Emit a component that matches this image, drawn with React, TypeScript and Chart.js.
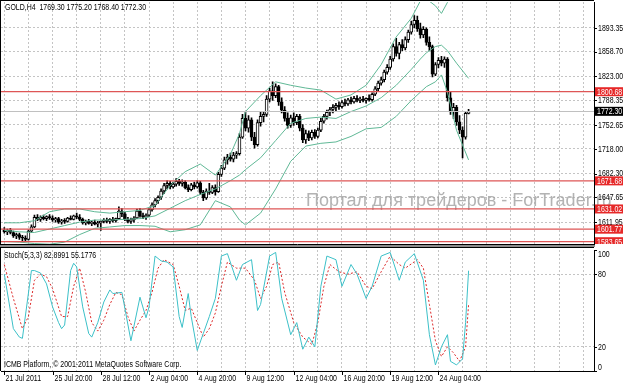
import React, { useEffect, useRef } from "react";
import { Chart, registerables } from "chart.js";

Chart.register(...registerables);

const FONT = "Arial, 'Liberation Sans', sans-serif";
const NARROW = 0.82;

const opens = [
  1600,1598,1600,1597,1592,1594,1590,1589,1587,1599,
  1605,1619,1616,1619,1617,1620,1618,1615,1617,1612,
  1614,1613,1618,1616,1621,1619,1616,1611,1613,1610,
  1612,1609,1611,1613,1615,1613,1616,1614,1617,1628,
  1624,1616,1613,1615,1618,1628,1621,1619,1622,1630,
  1637,1643,1648,1657,1665,1668,1663,1667,1671,1668,
  1670,1662,1659,1666,1663,1669,1655,1647,1657,1655,
  1662,1656,1681,1690,1702,1706,1703,1709,1711,1735,
  1762,1748,1760,1735,1724,1756,1765,1768,1790,1802,
  1795,1808,1786,1774,1762,1752,1763,1756,1765,1748,
  1731,1740,1734,1742,1736,1745,1758,1765,1771,1775,
  1778,1781,1779,1785,1783,1789,1786,1791,1788,1790,
  1788,1791,1789,1797,1805,1813,1818,1829,1836,1848,
  1866,1856,1869,1864,1876,1887,1898,1904,1892,1883,
  1891,1872,1866,1826,1840,1846,1842,1848,1792,1772,
  1778,1757,1745,1735,1769.3,
];
const highs = [
  1604,1602,1603,1599,1596,1596,1593,1592,1601,1608,
  1622,1623,1621,1622,1621,1623,1621,1619,1619,1616,
  1617,1619,1621,1622,1625,1623,1618,1615,1616,1614,
  1615,1613,1614,1617,1618,1617,1619,1618,1634,1632,
  1626,1619,1618,1620,1631,1632,1625,1624,1632,1640,
  1646,1650,1660,1668,1672,1671,1670,1675,1674,1673,
  1672,1666,1668,1670,1672,1671,1658,1660,1668,1665,
  1666,1684,1694,1706,1710,1712,1713,1714,1740,1768,
  1772,1766,1763,1742,1760,1771,1772,1795,1806,1815,
  1812,1810,1792,1779,1770,1767,1770,1768,1768,1753,
  1745,1744,1745,1746,1748,1762,1768,1774,1778,1782,
  1784,1786,1788,1790,1791,1793,1794,1795,1793,1794,
  1792,1796,1799,1808,1816,1822,1832,1840,1852,1870,
  1878,1872,1876,1880,1890,1903,1911,1910,1900,1895,
  1893,1880,1868,1843,1850,1852,1851,1850,1800,1784,
  1781,1766,1750,1771,1775.2,
];
const lows = [
  1596,1594,1595,1590,1588,1587,1585,1584,1586,1597,
  1604,1614,1613,1615,1614,1616,1613,1612,1610,1609,
  1610,1612,1615,1615,1617,1614,1609,1608,1609,1607,
  1608,1605,1600,1611,1611,1610,1612,1612,1616,1620,
  1614,1611,1610,1612,1617,1619,1617,1616,1620,1628,
  1634,1639,1645,1653,1660,1660,1661,1664,1665,1664,
  1660,1656,1657,1660,1661,1652,1643,1645,1652,1653,
  1651,1655,1678,1688,1696,1700,1699,1704,1709,1733,
  1744,1742,1730,1719,1722,1751,1757,1765,1786,1788,
  1792,1781,1770,1758,1748,1749,1752,1753,1744,1727,
  1726,1730,1731,1733,1734,1743,1755,1761,1766,1770,
  1772,1775,1777,1780,1781,1783,1784,1786,1785,1786,
  1784,1787,1787,1795,1802,1810,1815,1826,1833,1845,
  1852,1848,1860,1861,1872,1884,1893,1888,1878,1879,
  1868,1860,1822,1824,1835,1838,1836,1787,1768,1762,
  1752,1740,1705,1732,1768.4,
];
const closes = [
  1598,1600,1597,1592,1594,1590,1589,1587,1599,1605,
  1619,1616,1619,1617,1620,1618,1615,1617,1612,1614,
  1613,1618,1616,1621,1619,1616,1611,1613,1610,1612,
  1609,1611,1613,1615,1613,1616,1614,1617,1628,1624,
  1616,1613,1615,1618,1628,1621,1619,1622,1630,1637,
  1643,1648,1657,1665,1668,1663,1667,1671,1668,1670,
  1662,1659,1666,1663,1669,1655,1647,1657,1655,1662,
  1656,1681,1690,1702,1706,1703,1709,1711,1735,1762,
  1748,1760,1735,1724,1756,1765,1768,1790,1802,1795,
  1808,1786,1774,1762,1752,1763,1756,1765,1748,1731,
  1740,1734,1742,1736,1745,1758,1765,1771,1775,1778,
  1781,1779,1785,1783,1789,1786,1791,1788,1790,1788,
  1791,1789,1797,1805,1813,1818,1829,1836,1848,1866,
  1856,1869,1864,1876,1887,1898,1904,1892,1883,1891,
  1872,1866,1826,1840,1846,1842,1848,1792,1772,1778,
  1757,1745,1735,1769.3,1772.3,
];

// Bollinger Bands (20) at these bar indices
const bbIdx = [0,5,10,15,20,25,30,35,40,45,50,55,60,65,70,75,78,80,85,90,95,100,105,110,115,120,125,130,135,138,140,143,145,147,150,154];
const bbUpper = [1611,1611,1614,1627,1631,1631,1627,1625,1627,1629,1636,1665,1685,1696,1680,1710,1740,1772,1795,1815,1810,1806,1803,1790,1796,1810,1840,1880,1907,1932,1935,1925,1914,1930,1960,1975];
const bbMiddle = [1600,1598,1597,1602,1607,1612,1615,1615,1616,1617,1621,1632,1643,1652,1660,1672,1680,1688,1705,1730,1755,1762,1764,1762,1772,1780,1792,1810,1833,1848,1857,1866,1868,1860,1842,1820];
const bbLower = [1584,1583,1581,1580,1583,1594,1603,1605,1607,1607,1606,1598,1601,1608,1643,1634,1615,1608,1625,1660,1700,1722,1726,1728,1736,1747,1749,1765,1788,1800,1808,1815,1825,1800,1745,1702];

// Stochastic(5,3,3)
const kIdx = [0,3,5,6,9,10,12,14,16,18,19,20,22,23,24,26,28,29,31,33,35,36,39,42,45,47,48,50,52,54,56,58,59,61,62,64,66,68,70,72,74,77,79,82,84,85,88,90,92,95,97,99,101,103,105,107,110,112,115,117,120,122,125,128,131,133,136,139,141,143,145,147,148,150,152,153,154];
const kVal = [80,35,28,27,83,83,81,72,53,40,35,38,83,89,86,53,31,28,40,57,67,64,65,25,61,44,53,95,91,90,86,45,36,64,45,17,31,45,60,95,97,75,88,92,50,55,95,98,60,30,40,18,28,20,70,95,92,70,88,80,60,70,95,98,75,90,97,75,30,5,20,30,8,5,10,40,82.9];
const dIdx = [0,3,6,8,10,12,14,16,19,21,23,25,27,29,31,33,35,37,39,41,43,45,47,49,51,53,56,58,60,62,64,66,68,70,72,74,77,80,83,85,87,89,91,93,96,99,102,104,106,108,111,114,117,120,122,125,128,131,133,137,139,141,143,145,147,149,151,153,154];
const dVal = [88,60,35,45,75,80,78,68,45,45,70,85,65,40,33,42,55,65,63,45,33,42,50,65,85,92,88,70,50,52,40,28,35,48,70,90,85,85,75,60,70,88,90,65,40,28,22,40,70,88,82,80,82,70,68,82,95,88,85,92,85,55,25,12,20,15,8,20,55.18];

const dateLabels = ["21 Jul 2011","25 Jul 20:00","28 Jul 12:00","2 Aug 04:00","4 Aug 20:00","9 Aug 12:00","12 Aug 04:00","16 Aug 20:00","19 Aug 12:00","24 Aug 04:00"];
const priceTicks = [1577.30,1611.95,1647.65,1682.30,1718.00,1752.65,1788.35,1823.00,1858.70,1893.35];
const levelLines = [1800.68,1671.68,1631.02,1601.77,1583.65];
const lastPrice = 1772.30;
const stochTicks = [0,20,80,100];
const stochLevels = [20,80];

const title = "GOLD,H4  1769.30 1775.20 1768.40 1772.30";
const stochTitle = "Stoch(5,3,3) 82.8991 55.1776";
const copyright = "ICMB Platform, \u00a9 2001-2011 MetaQuotes Software Corp.";
const watermark = "\u041f\u043e\u0440\u0442\u0430\u043b \u0434\u043b\u044f \u0442\u0440\u0435\u0439\u0434\u0435\u0440\u043e\u0432 - ForTrader.ru";

const X_MIN = -1.1;
const X_MAX = 195.6;
const P_MIN = 1579.6;
const P_MAX = 1930.5;
const GRID = "#c4c4c4";
const BB_COLOR = "rgb(96,184,150)";

function txt(ctx: CanvasRenderingContext2D, s: string, x: number, y: number, color = "#000", size = 8.5) {
  ctx.save();
  ctx.font = `${size}px ${FONT}`;
  ctx.fillStyle = color;
  ctx.textBaseline = "middle";
  ctx.textAlign = "left";
  ctx.translate(x, y);
  ctx.scale(NARROW, 1);
  ctx.fillText(s, 0, 0);
  ctx.restore();
}

function hline(ctx: CanvasRenderingContext2D, x1: number, x2: number, y: number) {
  ctx.beginPath();
  ctx.moveTo(x1, y);
  ctx.lineTo(x2, y);
  ctx.stroke();
}

function vline(ctx: CanvasRenderingContext2D, x: number, y1: number, y2: number) {
  ctx.beginPath();
  ctx.moveTo(x, y1);
  ctx.lineTo(x, y2);
  ctx.stroke();
}

export default function App() {
  const mainRef = useRef<HTMLCanvasElement>(null);
  const stochRef = useRef<HTMLCanvasElement>(null);

  useEffect(() => {
    document.body.style.margin = "0";
    const idx = closes.map((_, i) => i);
    const gridTicks: number[] = [];
    for (let v = 0; v <= 192; v += 8) gridTicks.push(v);

    const mainDecor = {
      id: "mainDecor",
      beforeDatasetsDraw(chart: any) {
        const ctx = chart.ctx as CanvasRenderingContext2D;
        ctx.save();
        ctx.font = "18px Arial";
        ctx.fillStyle = "rgba(160,160,160,0.8)";
        ctx.textBaseline = "alphabetic";
        ctx.fillText(watermark, 306, 206);
        ctx.restore();
      },
      afterDatasetsDraw(chart: any) {
        const ctx = chart.ctx as CanvasRenderingContext2D;
        const a = chart.chartArea;
        const y = chart.scales.y;
        ctx.save();
        ctx.lineWidth = 1;
        ctx.strokeStyle = "#c0c0c0";
        hline(ctx, a.left, a.right, Math.round(y.getPixelForValue(lastPrice)) + 0.5);
        ctx.strokeStyle = "rgb(222,86,86)";
        ctx.lineWidth = 1.3;
        levelLines.forEach((v) => hline(ctx, a.left, a.right, y.getPixelForValue(v)));
        ctx.restore();
      },
      afterDraw(chart: any) {
        const ctx = chart.ctx as CanvasRenderingContext2D;
        const a = chart.chartArea;
        const y = chart.scales.y;
        ctx.save();
        ctx.strokeStyle = "#000";
        ctx.lineWidth = 1;
        priceTicks.forEach((v) => {
          const py = y.getPixelForValue(v);
          hline(ctx, a.right, a.right + 3, Math.round(py) + 0.5);
          txt(ctx, v.toFixed(2), a.right + 4, py + 0.5);
        });
        const box = (v: number, bg: string) => {
          const py = y.getPixelForValue(v);
          ctx.fillStyle = bg;
          ctx.fillRect(a.right + 1, py - 4.5, 623 - a.right - 1, 9);
          txt(ctx, v.toFixed(2), a.right + 3, py + 0.5, "#fff");
        };
        levelLines.forEach((v) => box(v, "rgb(230,40,40)"));
        box(lastPrice, "#000");
        ctx.strokeStyle = "#000";
        hline(ctx, 0, a.right, 0.5);
        vline(ctx, 0.5, 0, 247);
        ctx.fillStyle = "#fff";
        ctx.fillRect(0, 244, 623, 3);
        ctx.fillStyle = "#8c8c8c";
        ctx.fillRect(0, 245, a.right + 1, 2);
        hline(ctx, 0, a.right + 1, 244.5);
        txt(ctx, title, 5, 8);
        ctx.restore();
      },
    };

    const main = new Chart(mainRef.current as HTMLCanvasElement, {
      type: "bar",
      data: {
        datasets: [
          {
            type: "bar",
            data: idx.map((i) => ({ x: i, y: [opens[i], closes[i]] })) as any,
            backgroundColor: idx.map((i) => (closes[i] >= opens[i] ? "#fff" : "#000")),
            borderColor: "#000",
            borderWidth: 1,
            borderSkipped: false,
            barThickness: 3,
            minBarLength: 1,
            grouped: false,
            order: 1,
          } as any,
          {
            type: "bar",
            data: idx.map((i) => ({ x: i, y: [lows[i], highs[i]] })) as any,
            backgroundColor: "#000",
            borderWidth: 0,
            barThickness: 1,
            grouped: false,
            order: 2,
          } as any,
          ...[bbUpper, bbMiddle, bbLower].map((arr) => ({
            type: "line",
            data: bbIdx.map((x, j) => ({ x, y: arr[j] })),
            borderColor: BB_COLOR,
            borderWidth: 1,
            pointRadius: 0,
            tension: 0,
            order: 0,
          })) as any,
        ],
      },
      options: {
        animation: false,
        responsive: false,
        maintainAspectRatio: false,
        layout: { padding: { left: 1, top: 2, right: 0, bottom: 2.5 } },
        plugins: { legend: { display: false }, tooltip: { enabled: false } },
        scales: {
          x: {
            type: "linear",
            min: X_MIN,
            max: X_MAX,
            offset: false,
            afterBuildTicks: (s: any) => {
              s.ticks = gridTicks.map((v) => ({ value: v }));
            },
            afterFit: (s: any) => {
              s.height = 0;
            },
            ticks: { display: false },
            grid: { color: GRID, drawTicks: false, offset: false },
            border: { display: false, dash: [2, 2] },
          },
          y: {
            type: "linear",
            position: "right",
            min: P_MIN,
            max: P_MAX,
            afterBuildTicks: (s: any) => {
              s.ticks = priceTicks.map((v) => ({ value: v }));
            },
            afterFit: (s: any) => {
              s.width = 29;
            },
            ticks: { display: false },
            grid: {
              drawTicks: false,
              color: (c: any) => (c.tick && c.tick.value < P_MIN ? "rgba(0,0,0,0)" : GRID),
            },
            border: { display: true, color: "#000", width: 1, dash: [2, 2] },
          },
        },
      } as any,
      plugins: [mainDecor],
    });

    const stochDecor = {
      id: "stochDecor",
      afterDraw(chart: any) {
        const ctx = chart.ctx as CanvasRenderingContext2D;
        const a = chart.chartArea;
        const x = chart.scales.x;
        const y = chart.scales.y;
        ctx.save();
        ctx.strokeStyle = "#000";
        ctx.lineWidth = 1;
        hline(ctx, 0, a.right, 0.5);
        vline(ctx, 0.5, 0, a.bottom);
        stochTicks.forEach((v) => {
          const py = y.getPixelForValue(v);
          const off = v === 100 ? 4 : v === 0 ? -4 : 0;
          hline(ctx, a.right, a.right + 3, Math.round(py) + 0.5);
          txt(ctx, String(v), a.right + 4, py + off + 0.5);
        });
        dateLabels.forEach((lab, j) => {
          const px = Math.round(x.getPixelForValue(j * 16)) + 0.5;
          vline(ctx, px, a.bottom, a.bottom + 4);
          txt(ctx, lab, px + 1, a.bottom + 7.5);
        });
        txt(ctx, stochTitle, 4, 9);
        txt(ctx, copyright, 4, a.bottom - 6);
        ctx.restore();
      },
    };

    const stoch = new Chart(stochRef.current as HTMLCanvasElement, {
      type: "line",
      data: {
        datasets: [
          {
            data: kIdx.map((x, j) => ({ x, y: kVal[j] })),
            borderColor: "rgb(60,192,200)",
            borderWidth: 1,
            pointRadius: 0,
            tension: 0,
          },
          {
            data: dIdx.map((x, j) => ({ x, y: dVal[j] })),
            borderColor: "rgb(220,40,40)",
            borderWidth: 1,
            borderDash: [2, 2],
            pointRadius: 0,
            tension: 0,
          },
        ],
      },
      options: {
        animation: false,
        responsive: false,
        maintainAspectRatio: false,
        layout: { padding: { left: 1, top: 3, right: 0, bottom: 0 } },
        plugins: { legend: { display: false }, tooltip: { enabled: false } },
        scales: {
          x: {
            type: "linear",
            min: X_MIN,
            max: X_MAX,
            offset: false,
            afterBuildTicks: (s: any) => {
              s.ticks = gridTicks.map((v) => ({ value: v }));
            },
            afterFit: (s: any) => {
              s.height = 13;
            },
            ticks: { display: false },
            grid: { color: GRID, drawTicks: false },
            border: { display: true, color: "#000", width: 1, dash: [2, 2] },
          },
          y: {
            type: "linear",
            position: "right",
            min: 0,
            max: 100,
            afterBuildTicks: (s: any) => {
              s.ticks = stochTicks.map((v) => ({ value: v }));
            },
            afterFit: (s: any) => {
              s.width = 29;
            },
            ticks: { display: false },
            grid: {
              drawTicks: false,
              color: (c: any) => (c.tick && stochLevels.includes(c.tick.value) ? GRID : "rgba(0,0,0,0)"),
            },
            border: { display: true, color: "#000", width: 1, dash: [2, 2] },
          },
        },
      } as any,
      plugins: [stochDecor],
    });

    return () => {
      main.destroy();
      stoch.destroy();
    };
  }, []);

  return (
    <div style={{ position: "relative", width: 623, height: 384, background: "#fff", overflow: "hidden" }}>
      <canvas ref={mainRef} width={623} height={247} style={{ position: "absolute", left: 0, top: 0, width: 623, height: 247 }} />
      <canvas ref={stochRef} width={623} height={137} style={{ position: "absolute", left: 0, top: 247, width: 623, height: 137 }} />
    </div>
  );
}
